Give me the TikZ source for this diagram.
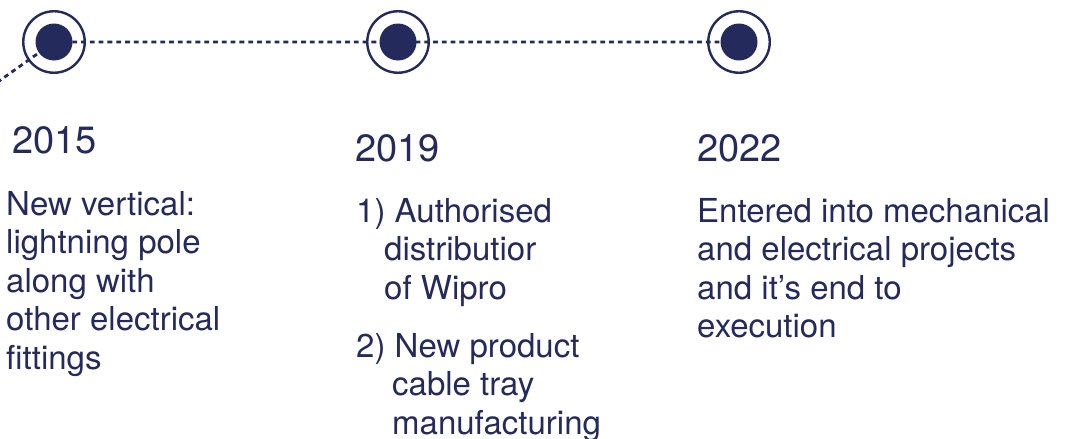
\documentclass[tikz,border=0pt]{standalone}
\usepackage{fontspec}
\setmainfont{TeX Gyre Heros}
\definecolor{navy}{HTML}{242A5B}
\tikzset{
% Two node styles for the timeline marks: ring and solid dot
ring node/.style={circle,draw=navy,line width=2.4pt,minimum size=61.5pt,inner sep=0},
dot node/.style={circle,fill=navy,minimum size=37pt,inner sep=0},
% Text styles for years and notes (notes sit on the baseline of their last line)
year text/.style={anchor=base west,inner sep=0,text=navy,font=\fontsize{38}{38}\selectfont},
note text/.style={anchor=base west,inner sep=0,text=navy,align=left,font=\fontsize{33}{38.5}\selectfont}
}

\begin{document}
\begin{tikzpicture}[x=1pt,y=-1pt]
      \useasboundingbox (0,0) rectangle (1074,439);
      % The rings
      \node(ring1)[ring node] at (54,42) {};
      \node(ring2)[ring node] at (398,42) {};
      \node(ring3)[ring node] at (739,42) {};
      % Dashed track, under the dots
      \coordinate (start) at (-10,87.5);
      \draw[navy,line width=2.8pt,dash pattern=on 4.8pt off 4pt]
        (start) -- (ring1.center) -- (ring2.center) -- (ring3.center);
      % The dots
      \node(dot1)[dot node] at (ring1) {};
      \node(dot2)[dot node] at (ring2) {};
      \node(dot3)[dot node] at (ring3) {};
      % Years
      \node(y2015)[year text] at (12,153) {2015};
      \node(y2019)[year text] at (355,161) {2019};
      \node(y2022)[year text] at (697,161) {2022};
      % Notes
      \node(n2015)[note text] at (6,369) {New vertical:\\lightning pole\\along with\\other electrical\\fittings};
      \node(n2019a)[note text] at (356,299) {1) Authorised\\\hspace*{28pt}distributior\\\hspace*{28pt}of Wipro};
      \node(n2019b)[note text] at (356,434) {2) New product\\\hspace*{36pt}cable tray\\\hspace*{36pt}manufacturing};
      \node(n2022)[note text] at (697,337.5) {Entered into mechanical\\and electrical projects\\and it’s end to\\execution};
\end{tikzpicture}
\end{document}
